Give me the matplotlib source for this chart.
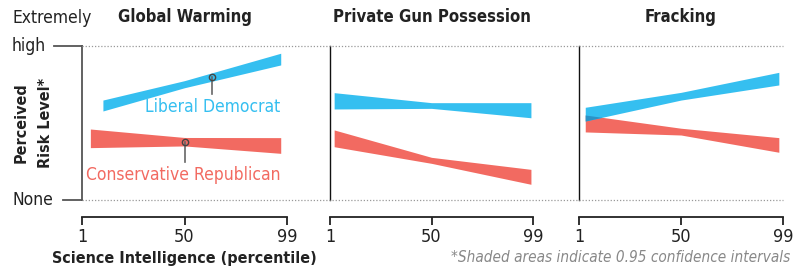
import numpy as np
import matplotlib.pyplot as plt
from matplotlib.lines import Line2D

plt.rcParams['font.family'] = ['DejaVu Sans']
plt.rcParams['font.stretch'] = 'condensed'

# band data: percentile positions and lower / upper bounds of perceived risk (0 = None, 1 = Extremely high)
titles = ['Global Warming', 'Private Gun Possession', 'Fracking']

dem_x = [[11, 50, 96], [3, 50, 98], [4, 50, 97]]
dem_lo = [[0.578, 0.729, 0.877], [0.591, 0.595, 0.534], [0.513, 0.649, 0.747]]
dem_hi = [[0.649, 0.775, 0.953], [0.697, 0.632, 0.632], [0.602, 0.699, 0.829]]

rep_x = [[5, 50, 96], [3, 50, 98], [4, 50, 97]]
rep_lo = [[0.340, 0.351, 0.303], [0.346, 0.238, 0.102], [0.442, 0.422, 0.310]]
rep_hi = [[0.461, 0.406, 0.405], [0.455, 0.277, 0.199], [0.552, 0.466, 0.405]]

xticks = [1, 50, 99]

# where the labels point to in panel 1
dem_mark = 63
rep_mark = 50

blue = '#35bff0'
red = '#f26a61'
overlap = '#2b93c6'
dark = '#222222'

fig = plt.figure(figsize=(8.01, 2.74), dpi=100)
W, H = 801, 274
lefts = [82, 330, 579]
widths = [205, 203, 204]
top, bottom = 46, 200

axes = []
for i in range(3):
    ax = fig.add_axes([lefts[i] / W, 1 - bottom / H, widths[i] / W, (bottom - top) / H])
    axes.append(ax)
    ax.set_xlim(1, 99)
    ax.set_ylim(0, 1)
    for s in ['top', 'right']:
        ax.spines[s].set_visible(False)
    ax.spines['bottom'].set_position(('outward', 12))
    ax.spines['bottom'].set_color(dark)
    ax.spines['bottom'].set_linewidth(1.3)
    ax.spines['left'].set_color('#555555' if i == 0 else '#111111')
    ax.spines['left'].set_linewidth(1.3 if i == 0 else 1.0)
    ax.set_xticks(xticks)
    ax.set_xticklabels([str(t) for t in xticks])
    ax.tick_params(axis='x', direction='out', length=6, width=1.3, color=dark,
                   labelsize=13, labelcolor=dark, pad=2)
    ax.set_yticks([])
    ax.set_title(titles[i], fontsize=12, fontweight='bold', color=dark, pad=17)

    # bands
    ax.fill_between(rep_x[i], rep_lo[i], rep_hi[i], color=red, lw=0)
    ax.fill_between(dem_x[i], dem_lo[i], dem_hi[i], color=blue, lw=0)
    # darker where the two intervals overlap
    xs = np.linspace(max(dem_x[i][0], rep_x[i][0]), min(dem_x[i][-1], rep_x[i][-1]), 400)
    lo = np.maximum(np.interp(xs, dem_x[i], dem_lo[i]), np.interp(xs, rep_x[i], rep_lo[i]))
    hi = np.minimum(np.interp(xs, dem_x[i], dem_hi[i]), np.interp(xs, rep_x[i], rep_hi[i]))
    ax.fill_between(xs, lo, hi, where=hi > lo, color=overlap, lw=0)

ax = axes[0]
# y tick marks and labels
ax.plot([-0.135, 0], [1, 1], transform=ax.transAxes, color='#555555', lw=1.3, clip_on=False)
ax.plot([-0.093, 0], [0, 0], transform=ax.transAxes, color='#555555', lw=1.3, clip_on=False)
fig.text(12 / W, 1 - 46 / H, 'high', fontsize=12.5, color=dark, va='center', ha='left')
fig.text(12 / W, 1 - 18 / H, 'Extremely', fontsize=12.5, color=dark, va='center', ha='left')
fig.text(12 / W, 1 - 200 / H, 'None', fontsize=12.5, color=dark, va='center', ha='left')
fig.text(21 / W, 1 - 123 / H, 'Perceived', fontsize=11.5, fontweight='bold',
         color=dark, rotation=90, va='center', ha='center')
fig.text(45 / W, 1 - 123 / H, 'Risk Level*', fontsize=11.5, fontweight='bold',
         color=dark, rotation=90, va='center', ha='center')

# labels with pointers
dy = np.interp(dem_mark, dem_x[0], (np.array(dem_lo[0]) + np.array(dem_hi[0])) / 2)
ry = np.interp(rep_mark, rep_x[0], (np.array(rep_lo[0]) + np.array(rep_hi[0])) / 2)
ax.plot([dem_mark, dem_mark], [dy, dy - 0.11], color='#666666', lw=1.2)
ax.plot([rep_mark, rep_mark], [ry, ry - 0.13], color='#666666', lw=1.2)
ax.plot([dem_mark], [dy], 'o', ms=4.5, mfc='none', mec='#444444', mew=1)
ax.plot([rep_mark], [ry], 'o', ms=4.5, mfc='none', mec='#444444', mew=1)
ax.text(96, 0.605, 'Liberal Democrat', color=blue, fontsize=12.5, ha='right', va='center')
ax.text(96, 0.162, 'Conservative Republican', color=red, fontsize=12.5, ha='right', va='center')

# dotted reference lines across all panels
for yy in [top, bottom]:
    fig.add_artist(Line2D([82 / W, 783 / W], [1 - yy / H, 1 - yy / H], color='#999999',
                          lw=0.9, ls=(0, (1, 1.5))))

fig.text(52 / W, 1 - 258 / H, 'Science Intelligence (percentile)', fontsize=11.5,
         fontweight='bold', color=dark, va='center', ha='left')
fig.text(790 / W, 1 - 258 / H, '*Shaded areas indicate 0.95 confidence intervals', fontsize=11,
         style='italic', color='#888888', va='center', ha='right')

fig.savefig('out.png', dpi=100)
